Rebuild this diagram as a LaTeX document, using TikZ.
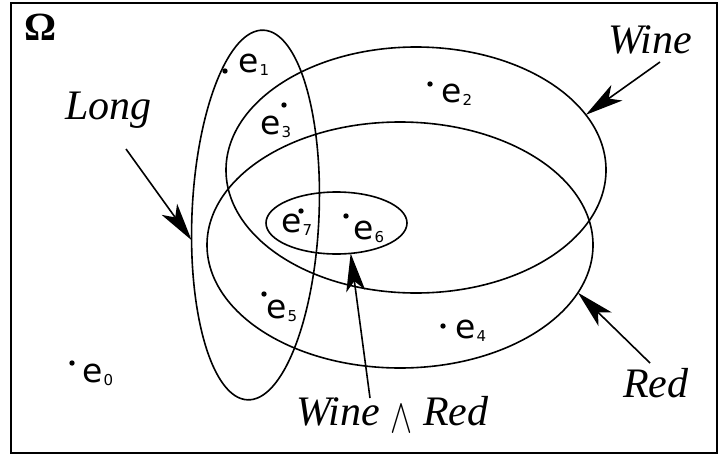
\documentclass[tikz,border=0pt]{standalone}
\usepackage{graphicx}
\usepackage{fontspec}
\setmainfont{Liberation Serif}
\newfontfamily\labfont{DejaVu Sans}
\usetikzlibrary{shapes.geometric,arrows.meta}
\newcommand{\esub}[1]{e\kern1pt\raisebox{-3pt}{\fontsize{15}{15}\selectfont #1}}
\begin{document}
\begin{tikzpicture}[x=1pt,y=-1pt,
  set/.style={draw, ellipse, line width=1.6pt, inner sep=0pt, outer sep=0pt},
  pt/.style={circle, fill, inner sep=0pt, minimum size=5.4pt},
  elab/.style={inner sep=0pt, anchor=base west, font=\labfont\fontsize{33}{33}\selectfont},
  setlabel/.style={inner sep=0pt, anchor=base west, font=\fontsize{42}{42}\selectfont\itshape},
  pointer/.style={line width=1.6pt, -{Stealth[length=38pt,width=19pt,inset=10pt]}}
]
\useasboundingbox (0,0) rectangle (719,455);
\draw[line width=2pt] (11,3) rectangle (717,453);

% sets
\node[set, minimum width=380pt, minimum height=246pt] (wine) at (416,170) {};
\node[set, minimum width=386pt, minimum height=246pt] (red) at (400,245) {};
\node[set, minimum width=127pt, minimum height=370pt, rotate=-2.5] (long) at (255.5,215) {};
\node[set, minimum width=141pt, minimum height=62pt] (both) at (336.5,223) {};

% labels
\node[setlabel, font=\fontsize{40}{40}\selectfont\bfseries] (omega) at (24,40) {Ω};
\node[setlabel] (longlab) at (65,119) {Long};
\node[setlabel] (winelab) at (608,53) {Wine};
\node[setlabel] (redlab) at (623,397) {Red};
\node[setlabel] (bothlab) at (296,425) {Wine\hspace{10pt}\raisebox{-7pt}{\resizebox{22pt}{27pt}{$\wedge$}}\hspace{11pt}Red};

% pointers
\coordinate (longtail) at (126,149);
\coordinate (winetail) at (660,62);
\coordinate (redtail) at (650,363);
\coordinate (bothtail) at (370,398);
\draw[pointer] (longtail) -- (long.204);
\draw[pointer] (winetail) -- (wine.18);
\draw[pointer] (redtail) -- (red.-15);
\draw[pointer] (bothtail) -- (both.-65);

% elements
\node[pt] (d0) at (72,363) {};
\node[elab] (e0) at (82,382) {\esub{0}};
\node[pt] (d1) at (225,71) {};
\node[elab] (e1) at (238,72) {\esub{1}};
\node[pt] (d2) at (430,84) {};
\node[elab] (e2) at (441,102) {\esub{2}};
\node[pt] (d3) at (284,105) {};
\node[elab] (e3) at (260,134) {\esub{3}};
\node[pt] (d4) at (443,326) {};
\node[elab] (e4) at (455,338) {\esub{4}};
\node[pt] (d5) at (264,294) {};
\node[elab] (e5) at (266,318) {\esub{5}};
\node[pt] (d6) at (346,216) {};
\node[elab] (e6) at (353,239) {\esub{6}};
\node[pt] (d7) at (301,211) {};
\node[elab] (e7) at (281,232) {\esub{7}};
\end{tikzpicture}
\end{document}
